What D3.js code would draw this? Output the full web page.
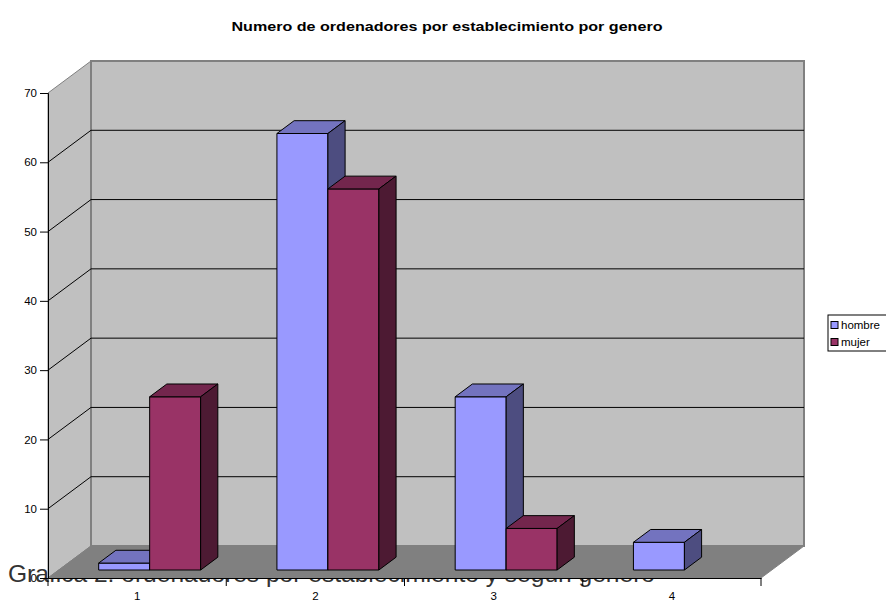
<!DOCTYPE html>
<html>
<head>
<meta charset="utf-8">
<script src="https://cdn.jsdelivr.net/npm/d3@7"></script>
<style>
  html, body { margin: 0; padding: 0; background: #fff; }
  svg { display: block; font-family: "Liberation Sans", Arial, sans-serif; }
</style>
</head>
<body>
<svg id="chart" width="886" height="603"></svg>
<script>
// Data
const categories = ["1", "2", "3", "4"];
const seriesNames = ["hombre", "mujer"];
const hombre = [1, 63, 25, 4];
const mujer = [25, 55, 6, 0];
const yTicks = [0, 10, 20, 30, 40, 50, 60, 70];
const title = "Numero de ordenadores por establecimiento por genero";
const caption = "Grafica 2: ordenadores por establecimiento y según genero";

const series = [
  { name: seriesNames[0], values: hombre, front: "#9999ff", top: "#7373bf", side: "#4d4d80" },
  { name: seriesNames[1], values: mujer,  front: "#993366", top: "#73264d", side: "#4d1a33" }
];

const svg = d3.select("#chart");

// Front plane of the 3D box and depth offset
const plot = { left: 48, right: 761, top: 93, bottom: 578 };
const depth = { dx: 43, dy: -32 };

const x = d3.scaleBand().domain(categories).range([plot.left, plot.right]).padding(0);
const y = d3.scaleLinear().domain([0, 70]).range([plot.bottom, plot.top]);

// projection: (x on front plane, value, depth fraction 0..1)
const P = (px, v, z) => [px + z * depth.dx, y(v) + z * depth.dy];
const poly = pts => "M" + pts.map(p => p.join(",")).join("L") + "Z";

// Caption text sits underneath the chart
svg.append("text")
  .attr("x", 8).attr("y", 582)
  .attr("font-size", 24)
  .attr("fill", "#333")
  .attr("textLength", 647)
  .attr("lengthAdjust", "spacingAndGlyphs")
  .text(caption);

// Title
svg.append("text")
  .attr("x", 447).attr("y", 31)
  .attr("text-anchor", "middle")
  .attr("font-size", 12.5)
  .attr("font-weight", "bold")
  .attr("textLength", 431)
  .attr("lengthAdjust", "spacingAndGlyphs")
  .text(title);

// Walls
const wallColor = "#c0c0c0", edgeColor = "#808080";
svg.append("path")
  .attr("d", poly([P(plot.left, 0, 0), P(plot.left, 70, 0), P(plot.left, 70, 1), P(plot.left, 0, 1)]))
  .attr("fill", wallColor).attr("stroke", edgeColor).attr("stroke-width", 1);
svg.append("path")
  .attr("d", poly([P(plot.left, 0, 1), P(plot.left, 70, 1), P(plot.right, 70, 1), P(plot.right, 0, 1)]))
  .attr("fill", wallColor).attr("stroke", edgeColor).attr("stroke-width", 2);

// Gridlines on left and back walls
const grid = svg.append("g").attr("stroke", "#000").attr("stroke-width", 1).attr("fill", "none");
yTicks.filter(v => v > 0 && v < 70).forEach(v => {
  grid.append("path").attr("d", "M" + P(plot.left, v, 0) + "L" + P(plot.left, v, 1) + "L" + P(plot.right, v, 1));
});

// Floor
svg.append("path")
  .attr("d", poly([P(plot.left, 0, 0), P(plot.left, 0, 1), P(plot.right, 0, 1), P(plot.right, 0, 0)]))
  .attr("fill", "#808080").attr("stroke", "#808080").attr("stroke-width", 1);

// Y axis
const yAxis = d3.axisLeft(y).tickValues(yTicks).tickSize(8).tickPadding(3).tickFormat(d3.format("d"));
const gy = svg.append("g").attr("transform", `translate(${plot.left},0)`).call(yAxis);
gy.select(".domain").attr("stroke", "#000");
gy.selectAll("text").attr("font-size", 11.5).attr("font-family", "Liberation Sans, Arial, sans-serif").attr("fill", "#000");

// X axis
const xAxis = d3.axisBottom(x).tickSize(0).tickPadding(14);
const gx = svg.append("g").attr("transform", `translate(0,${plot.bottom})`).call(xAxis);
gx.select(".domain").attr("stroke", "#000");
gx.selectAll("text").attr("font-size", 11.5).attr("font-family", "Liberation Sans, Arial, sans-serif").attr("fill", "#000");
// category boundary ticks
const bounds = categories.map(c => x(c)).concat([plot.right]);
gx.selectAll("line.bound").data(bounds).enter().append("line")
  .attr("class", "bound")
  .attr("x1", d => d).attr("x2", d => d)
  .attr("y1", 0).attr("y2", 8)
  .attr("stroke", "#000");

// Bars
const bw = x.bandwidth();
const barW = bw * 0.286, barOff = bw * 0.224;
const z0 = 0.25, z1 = 0.65;
const bars = svg.append("g").attr("stroke", "#000").attr("stroke-width", 1).attr("stroke-linejoin", "round");
categories.forEach((c, ci) => {
  series.forEach((s, si) => {
    const v = s.values[ci];
    if (!v) return;
    const x0 = x(c) + barOff + si * barW, x1 = x0 + barW;
    const g = bars.append("g");
    g.append("path").attr("fill", s.front)
      .attr("d", poly([P(x0, 0, z0), P(x0, v, z0), P(x1, v, z0), P(x1, 0, z0)]));
    g.append("path").attr("fill", s.top)
      .attr("d", poly([P(x0, v, z0), P(x0, v, z1), P(x1, v, z1), P(x1, v, z0)]));
    g.append("path").attr("fill", s.side)
      .attr("d", poly([P(x1, 0, z0), P(x1, v, z0), P(x1, v, z1), P(x1, 0, z1)]));
  });
});

// Legend
const lg = svg.append("g").attr("transform", "translate(828,315)");
lg.append("rect").attr("x", 0).attr("y", 0).attr("width", 80).attr("height", 36)
  .attr("fill", "#fff").attr("stroke", "#000");
series.forEach((s, i) => {
  const row = lg.append("g").attr("transform", `translate(0,${10 + i * 17})`);
  row.append("rect").attr("x", 3).attr("y", -3.5).attr("width", 7).attr("height", 7)
    .attr("fill", s.front).attr("stroke", "#000");
  row.append("text").attr("x", 13).attr("y", 4).attr("font-size", 11.5).text(s.name);
});
</script>
</body>
</html>
